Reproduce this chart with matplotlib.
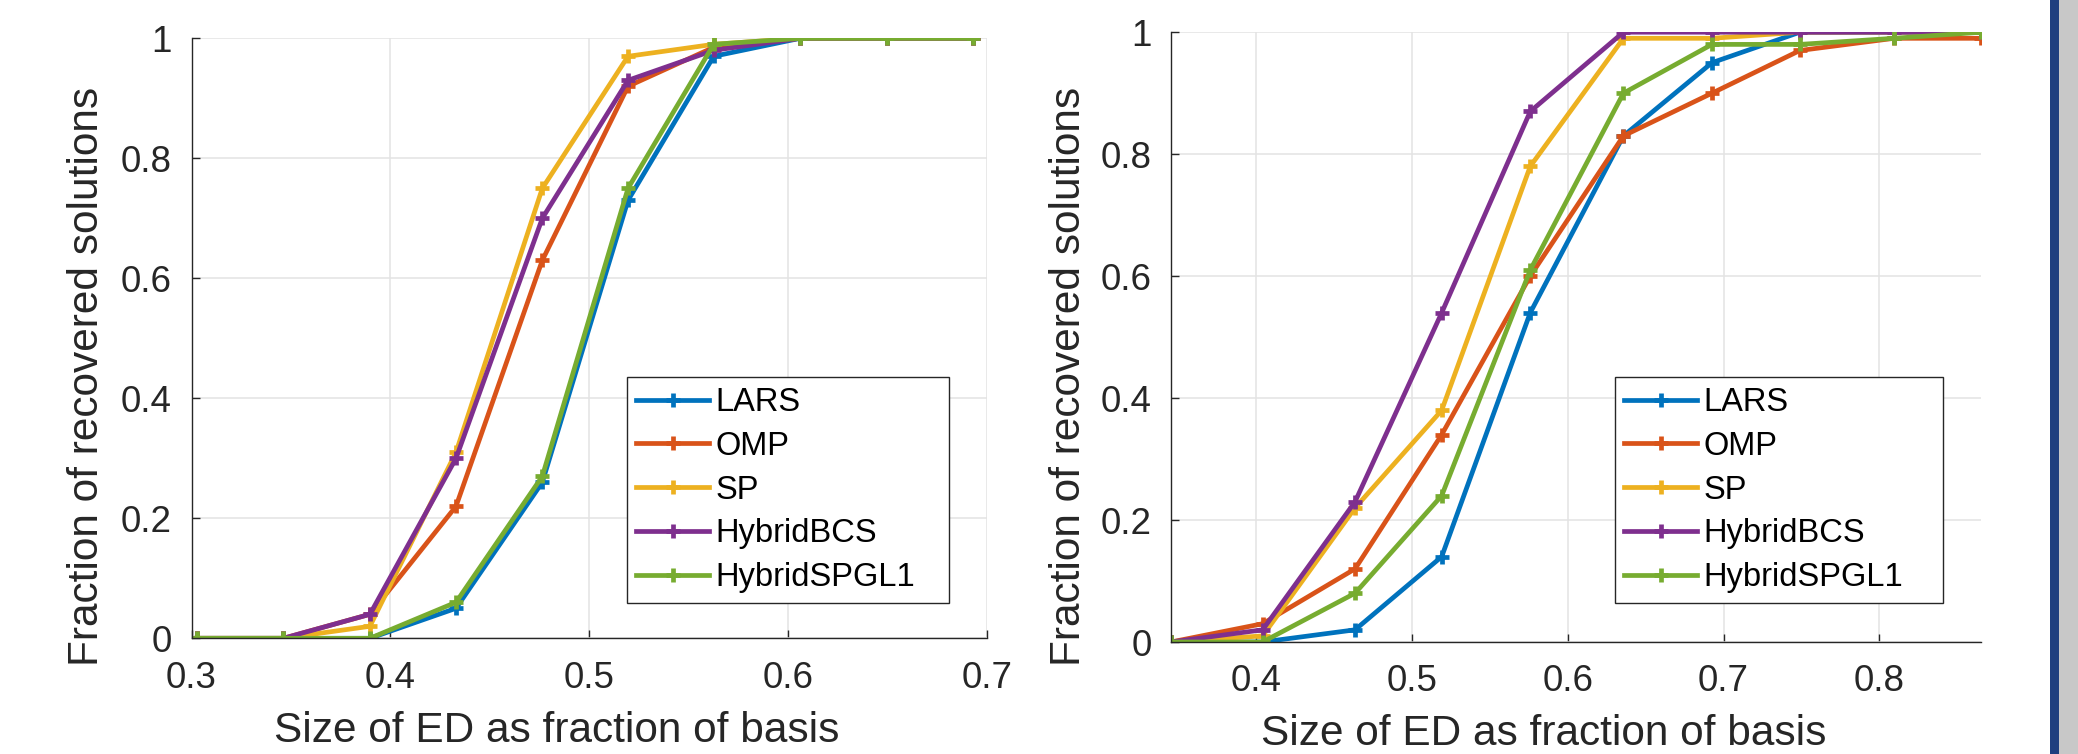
import matplotlib
matplotlib.use("Agg")
import matplotlib.pyplot as plt
from matplotlib.patches import Rectangle

plt.rcParams['font.family'] = ['Liberation Sans', 'DejaVu Sans']

# ---------------- data ----------------
methods = ["LARS", "OMP", "SP", "HybridBCS", "HybridSPGL1"]
colors = ["#0072BD", "#D95319", "#EDB120", "#7E2F8E", "#77AC30"]

x_left = [0.3026, 0.3462, 0.3897, 0.4330, 0.4764, 0.5195, 0.5626, 0.6061, 0.6496, 0.6929]
left_lars = [0, 0, 0, 0.05, 0.26, 0.73, 0.97, 1, 1, 1]
left_omp = [0, 0, 0.04, 0.22, 0.63, 0.92, 0.985, 1, 1, 1]
left_sp = [0, 0, 0.02, 0.31, 0.75, 0.97, 0.99, 1, 1, 1]
left_bcs = [0, 0, 0.04, 0.30, 0.70, 0.93, 0.98, 1, 1, 1]
left_spgl1 = [0, 0, 0, 0.06, 0.27, 0.75, 0.99, 1, 1, 1]

x_right = [0.3455, 0.4043, 0.4636, 0.5192, 0.5760, 0.6358, 0.6926, 0.7490, 0.8095, 0.8654]
right_lars = [0, 0, 0.02, 0.14, 0.54, 0.83, 0.95, 1, 1, 1]
right_omp = [0, 0.03, 0.12, 0.34, 0.60, 0.83, 0.90, 0.97, 0.99, 0.99]
right_sp = [0, 0.01, 0.22, 0.38, 0.78, 0.99, 0.99, 1, 1, 1]
right_bcs = [0, 0.02, 0.23, 0.54, 0.87, 1, 1, 1, 1, 1]
right_spgl1 = [0, 0, 0.08, 0.24, 0.61, 0.90, 0.98, 0.98, 0.99, 1]

yticks = [0, 0.2, 0.4, 0.6, 0.8, 1]
ytick_labels = ["0", "0.2", "0.4", "0.6", "0.8", "1"]
xticks_left = [0.3, 0.4, 0.5, 0.6, 0.7]
xticks_left_labels = ["0.3", "0.4", "0.5", "0.6", "0.7"]
xticks_right = [0.4, 0.5, 0.6, 0.7, 0.8]
xticks_right_labels = ["0.4", "0.5", "0.6", "0.7", "0.8"]
xlabel = "Size of ED as fraction of basis"
ylabel = "Fraction of recovered solutions"

W, H = 2078, 754
fig = plt.figure(figsize=(W / 100, H / 100), dpi=100)

dark = "#262626"


def px_ax(x0, y0, x1, y1):
    return [x0 / W, 1 - y1 / H, (x1 - x0) / W, (y1 - y0) / H]


def setup(ax, xt, xtl, xlim, legend_box, xlabel_pos, ylabel_pos):
    ax.set_xlim(*xlim)
    ax.set_ylim(0, 1)
    ax.set_xticks(xt)
    ax.set_xticklabels(xtl)
    ax.set_yticks(yticks)
    ax.set_yticklabels(ytick_labels)
    for s in ["top", "right"]:
        ax.spines[s].set_visible(False)
    for s in ["left", "bottom"]:
        ax.spines[s].set_color(dark)
        ax.spines[s].set_linewidth(1.0)
    ax.grid(True, color="#e3e3e3", linewidth=1.1)
    ax.set_axisbelow(True)
    ax.tick_params(direction="in", length=6, width=1.0, color=dark,
                   labelsize=26.5, labelcolor=dark)
    ax.tick_params(axis="x", pad=16)
    ax.tick_params(axis="y", pad=14)
    ax.set_xlabel(xlabel, fontsize=30.5, color=dark)
    ax.set_ylabel(ylabel, fontsize=30.5, color=dark)
    ax.xaxis.set_label_coords(*xlabel_pos)
    ax.xaxis.label.set_verticalalignment("baseline")
    ax.yaxis.set_label_coords(*ylabel_pos)
    ax.yaxis.label.set_verticalalignment("baseline")
    leg = ax.legend(loc="upper left", bbox_to_anchor=legend_box,
                    bbox_transform=fig.transFigure, mode="expand",
                    borderaxespad=0, fontsize=23.5, handlelength=2.22,
                    handletextpad=0.2, labelspacing=0.39, borderpad=0.3,
                    fancybox=False, framealpha=1)
    leg.get_frame().set_edgecolor(dark)
    leg.get_frame().set_linewidth(1.0)
    for t in leg.get_texts():
        t.set_color("black")


# left axes
axL = fig.add_axes(px_ax(191.5, 38.3, 987.0, 638.3))
for ys, c, m in zip([left_lars, left_omp, left_sp, left_bcs, left_spgl1], colors, methods):
    axL.plot(x_left, ys, color=c, lw=3.4, marker="+", ms=10.5, mew=3.4, label=m)
lb = (626.7 / W, 1 - 599.3 / H, 322.6 / W, 222 / H)
setup(axL, xticks_left, xticks_left_labels, (0.3, 0.7), lb,
      ((557 - 191.5) / 795.5, -(741.5 - 638.3) / 600),
      (-(191.5 - 98.3) / 795.5, (638.3 - 376) / 600))

# right axes
axR = fig.add_axes(px_ax(1171.0, 32.2, 1981.3, 642.0))
for ys, c, m in zip([right_lars, right_omp, right_sp, right_bcs, right_spgl1], colors, methods):
    axR.plot(x_right, ys, color=c, lw=3.4, marker="+", ms=10.5, mew=3.4, label=m)
rb = (1614.6 / W, 1 - 603.4 / H, 328.4 / W, 226 / H)
setup(axR, xticks_right, xticks_right_labels, (0.3455, 0.8654), rb,
      ((1543.7 - 1171) / 810.3, -(745 - 642) / 609.8),
      (-(1171 - 1080) / 810.3, (642 - 376) / 609.8))

# right-edge decoration
fig.patches.append(Rectangle((2050 / W, 0), 8.5 / W, 1, transform=fig.transFigure,
                             facecolor="#1f3f7f", edgecolor="none"))
fig.patches.append(Rectangle((2058.5 / W, 0), 19.5 / W, 1, transform=fig.transFigure,
                             facecolor="#c8c8c8", edgecolor="none"))

fig.savefig("out.png", dpi=100)
